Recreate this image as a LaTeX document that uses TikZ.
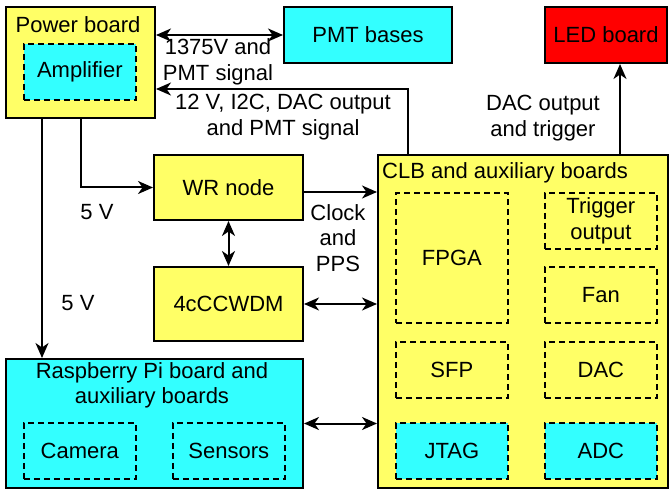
\documentclass[tikz,border=0pt]{standalone}
\usepackage{fontspec}
\setmainfont{Liberation Sans}
\usepackage{tikz}
\usetikzlibrary{arrows.meta}
\definecolor{boardyellow}{HTML}{FFFF66}
\definecolor{partcyan}{HTML}{33FFFF}
\definecolor{ledred}{HTML}{FF0000}

\begin{document}
\begin{tikzpicture}[x=1pt,y=-1pt,
  every node/.style={font=\fontsize{22}{25.5}\selectfont},
  board/.style={draw,line width=2pt,anchor=north west,inner sep=0pt,align=center},
  part/.style={draw,dashed,dash pattern=on 6pt off 4pt,line width=1.7pt,anchor=north west,
    inner sep=0pt,align=center,minimum width=112pt,minimum height=56pt},
  tag/.style={align=center,inner sep=0pt},
  tip/.tip={Stealth[length=15pt,width=13pt,inset=4.5pt]},
  arr/.style={line width=2pt,-tip},
  dbl/.style={line width=2pt,tip-tip}]
\useasboundingbox (0,0) rectangle (669,489);

\node [board,fill=boardyellow,minimum width=149pt,minimum height=111pt] (power) at (5,6) {};
\node [tag] (powertitle) at (78,25) {Power board};
\node [part,fill=partcyan] (amp) at (23,43) {Amplifier};

\node [board,fill=partcyan,minimum width=168pt,minimum height=56pt] (pmt) at (283,6) {PMT bases};
\node [board,fill=ledred,minimum width=122pt,minimum height=56pt] (led) at (544,6) {LED board};

\node [board,fill=boardyellow,minimum width=149pt,minimum height=65pt] (wr) at (153,154) {WR node};
\node [board,fill=boardyellow,minimum width=149pt,minimum height=74pt] (wdm) at (153,266) {4cCCWDM};

\node [board,fill=partcyan,minimum width=297pt,minimum height=129pt] (rpi) at (5,358) {};
\node [tag] (rpititle) at (152,385.5) {Raspberry Pi board and\\auxiliary boards};
\node [part] (camera) at (23,422) {Camera};
\node [part] (sensors) at (172,422) {Sensors};

\node [board,fill=boardyellow,minimum width=290pt,minimum height=333pt] (clb) at (377,154) {};
\node [tag,anchor=west] (clbtitle) at (382,173) {CLB and auxiliary boards};
\node [part,minimum height=130pt] (fpga) at (395,192) {FPGA};
\node [part] (trig) at (544,192) {Trigger\\output};
\node [part] (fan) at (544,266) {Fan};
\node [part] (sfp) at (395,341) {SFP};
\node [part] (dac) at (544,341) {DAC};
\node [part,fill=partcyan] (jtag) at (395,422) {JTAG};
\node [part,fill=partcyan] (adc) at (544,422) {ADC};

\coordinate (sigturn) at (408,89);
\coordinate (pwrdrop) at (42,0);
\coordinate (clkrow) at (0,192);
\coordinate (ledcol) at (620,0);

\path [dbl]

(power.east |- pmt.west)
edge
(pmt.west)

(wr.south)
edge
(wdm.north)

(wdm.east)
edge
(clb.west |- wdm.east)

(rpi.east)
edge
(clb.west |- rpi.east)

;

\path [arr]

(wr.east |- clkrow)
edge
(clb.west |- clkrow)

(power.south -| pwrdrop)
edge
(rpi.north -| pwrdrop)

(clb.north -| ledcol)
edge
(led.south -| ledcol)

;

\draw [arr] (clb.north -| sigturn) -- (sigturn) -- (power.east |- sigturn);
\draw [arr] (power.south) |- (wr.west);

\node [tag] (hvlabel) at (218,62) {1375V and\\PMT signal};
\node [tag] (siglabel) at (283,117) {12 V, I2C, DAC output\\and PMT signal};
\node [tag] (wrsupply) at (97,212) {5 V};
\node [tag] (rpisupply) at (78,303) {5 V};
\node [tag] (clklabel) at (338,238) {Clock\\and\\PPS};
\node [tag] (ledlabel) at (543,118) {DAC output\\and trigger};
\end{tikzpicture}
\end{document}
